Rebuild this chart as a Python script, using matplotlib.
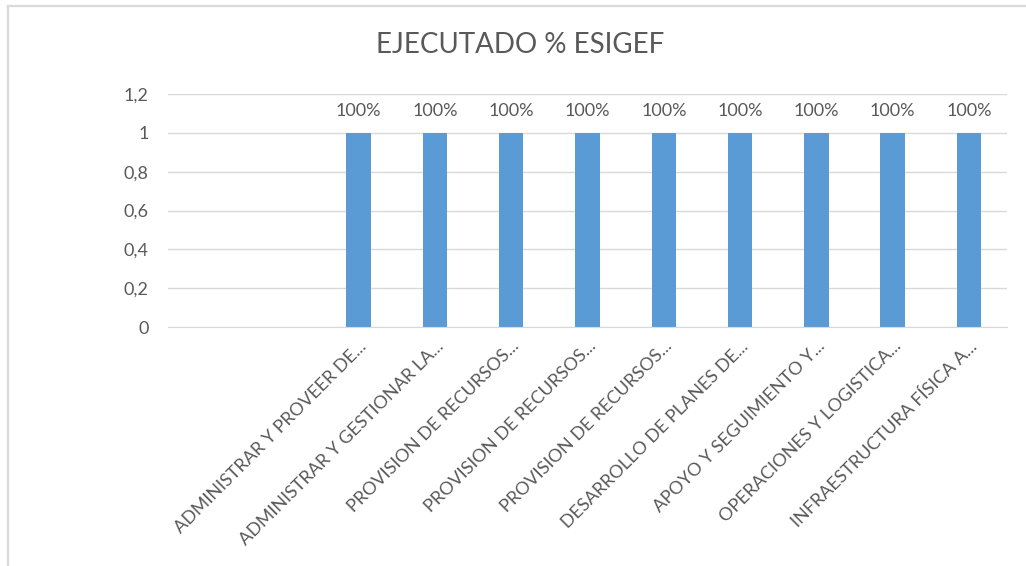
import matplotlib.pyplot as plt
from matplotlib.lines import Line2D
import matplotlib.transforms as mtransforms
import numpy as np

categories = [
    "",
    "",
    "ADMINISTRAR Y PROVEER DE...",
    "ADMINISTRAR Y GESTIONAR LA...",
    "PROVISION DE RECURSOS...",
    "PROVISION DE RECURSOS...",
    "PROVISION DE RECURSOS...",
    "DESARROLLO DE PLANES DE...",
    "APOYO Y SEGUIMIENTO Y...",
    "OPERACIONES Y LOGISTICA...",
    "INFRAESTRUCTURA FÍSICA A...",
]
ejecutado = [None, None, 1, 1, 1, 1, 1, 1, 1, 1, 1]
yticks = [0, 0.2, 0.4, 0.6, 0.8, 1, 1.2]
ytick_labels = ["0", "0,2", "0,4", "0,6", "0,8", "1", "1,2"]

text_color = "#595959"
grid_color = "#d9d9d9"
bar_color = "#5b9bd5"

plt.rcParams['font.family'] = ['Lato', 'DejaVu Sans']

fig = plt.figure(figsize=(10.26, 5.66), dpi=100)
W, H = 1026, 566
ax = fig.add_axes([168 / W, 1 - 327 / H, (1007 - 168) / W, (327 - 94) / H])

pos = np.arange(len(categories))
xs = [p for p, v in zip(pos, ejecutado) if v is not None]
vs = [v for v in ejecutado if v is not None]
bars = ax.bar(xs, vs, width=0.32, color=bar_color, zorder=3)
ax.bar_label(bars, labels=[f"{v:.0%}" for v in vs], padding=10,
             color=text_color, fontsize=13)

ax.set_xlim(-0.5, len(categories) - 0.5)
ax.set_ylim(0, 1.2)
ax.set_yticks(yticks)
ax.set_yticklabels(ytick_labels)
ax.set_xticks(pos)
ax.set_xticklabels(categories, rotation=45, ha='right', rotation_mode='anchor')
offset = mtransforms.ScaledTranslation(13 / 72, -4 / 72, fig.dpi_scale_trans)
for lbl in ax.get_xticklabels():
    lbl.set_transform(lbl.get_transform() + offset)

ax.tick_params(axis='both', length=0, colors=text_color, labelsize=13)
ax.tick_params(axis='y', pad=14)
ax.tick_params(axis='x', labelsize=13, pad=8)
ax.grid(axis='y', color=grid_color, linewidth=1, zorder=0)
for s in ['top', 'right', 'left']:
    ax.spines[s].set_visible(False)
ax.spines['bottom'].set_color(grid_color)
ax.spines['bottom'].set_zorder(4)

fig.text(520 / W, 1 - 45 / H, "EJECUTADO % ESIGEF", ha='center', va='center',
         fontsize=20, color=text_color)

# chart area border (top and left edges visible)
fig.add_artist(Line2D([7.5 / W, 1], [1 - 5.5 / H, 1 - 5.5 / H],
                      transform=fig.transFigure, color=grid_color, linewidth=1.6))
fig.add_artist(Line2D([8 / W, 8 / W], [0, 1 - 5.5 / H],
                      transform=fig.transFigure, color=grid_color, linewidth=1.6))

fig.savefig("out.png", dpi=100)
